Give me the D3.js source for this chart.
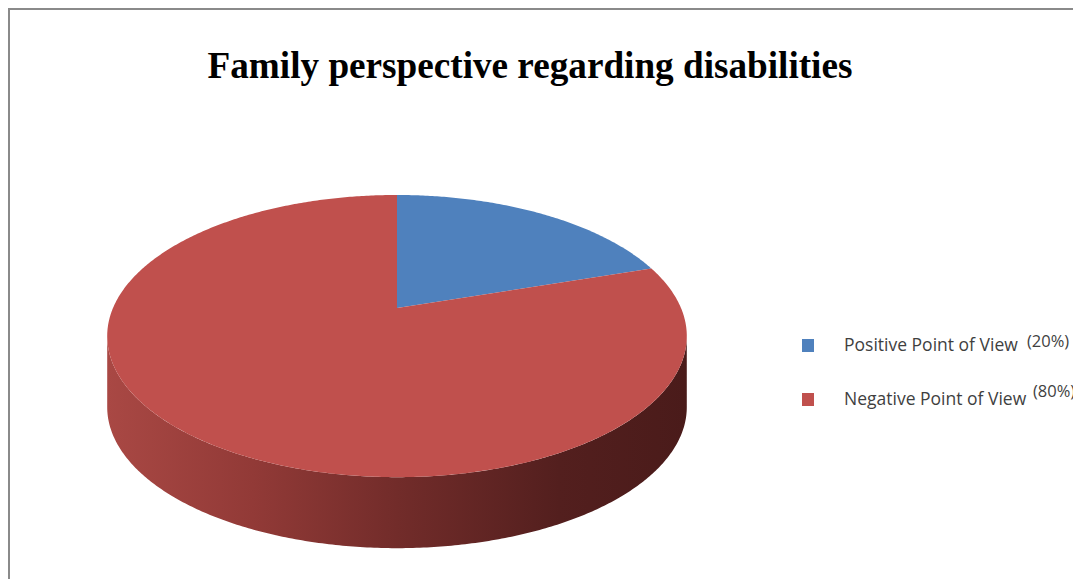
<!DOCTYPE html>
<html>
<head>
<meta charset="utf-8">
<script src="https://cdn.jsdelivr.net/npm/d3@7"></script>
<style>
    body { margin: 0; background: #fff; }
    svg { display: block; }
</style>
</head>
<body>
<svg id="canvas" width="1073" height="579"></svg>
<script>
// chart data
var categories = ["Positive Point of View", "Negative Point of View"];
var values = [20, 80];
var valueLabels = ["(20%)", "(80%)"];
var colors = ["#4f81bd", "#c0504d"];
var title = "Family perspective regarding disabilities";

var svg = d3.select("#canvas");

// frame (right and bottom edges are cut off in the original)
svg.append("path")
    .attr("d", "M9,579 L9,9 L1073,9")
    .attr("fill", "none")
    .attr("stroke", "#8a8a8a")
    .attr("stroke-width", 2);

svg.append("text")
    .attr("x", 530)
    .attr("y", 78)
    .attr("text-anchor", "middle")
    .attr("font-family", "'Liberation Serif', 'Times New Roman', serif")
    .attr("font-weight", "bold")
    .attr("font-size", 37.2)
    .attr("fill", "#000")
    .text(title);

// perspective projection of the pie disc
var pieGeom = {cx: 397, cy: 308, a: 284, b: 135.5, k: 0.199, depth: 71};

function proj(angle, dy) {
    var u = Math.sin(angle), v = Math.cos(angle);
    var den = 1 + pieGeom.k * v;
    return [pieGeom.cx + pieGeom.a * u / den, pieGeom.cy - pieGeom.b * v / den + (dy || 0)];
}

function arcPoints(a0, a1, dy) {
    var n = Math.max(2, Math.ceil(Math.abs(a1 - a0) / 0.01));
    var pts = [];
    for (var i = 0; i <= n; i++) {
        pts.push(proj(a0 + (a1 - a0) * i / n, dy));
    }
    return pts;
}

var pie = d3.pie().sort(null).value(function (d) { return d; });
var arcs = pie(values);

var defs = svg.append("defs");
var grad = defs.append("linearGradient")
    .attr("id", "sideGrad")
    .attr("gradientUnits", "userSpaceOnUse")
    .attr("x1", 107).attr("y1", 0)
    .attr("x2", 687).attr("y2", 0);
[[0, "#a94844"], [0.25, "#923a37"], [0.5, "#722c2a"], [0.78, "#531f1e"], [1, "#4a1b1a"]].forEach(function (s) {
    grad.append("stop").attr("offset", s[0]).attr("stop-color", s[1]);
});

var line = d3.line();

// side wall: visible between the two silhouette points
var silA = Math.acos(-pieGeom.k), silB = 2 * Math.PI - silA;
arcs.forEach(function (d) {
    var s = Math.max(d.startAngle, silA), e = Math.min(d.endAngle, silB);
    if (e <= s) return;
    var top = arcPoints(s, e, 0);
    var bottom = arcPoints(e, s, pieGeom.depth);
    svg.append("path")
        .attr("d", line(top.concat(bottom)) + "Z")
        .attr("fill", d.index === 1 ? "url(#sideGrad)" : d3.color(colors[d.index]).darker(1.2));
});

// top face
svg.append("g").attr("class", "slices")
    .selectAll("path")
    .data(arcs)
    .join("path")
    .attr("d", function (d) {
        var pts = [[pieGeom.cx, pieGeom.cy]].concat(arcPoints(d.startAngle, d.endAngle, 0));
        return line(pts) + "Z";
    })
    .attr("fill", function (d, i) { return colors[i]; });

// legend
var legendRows = [351, 405];
var labelRaise = [4, 8];
var legend = svg.append("g").attr("class", "legend");
categories.forEach(function (c, i) {
    legend.append("rect")
        .attr("x", 802)
        .attr("y", legendRows[i] - 12)
        .attr("width", 12)
        .attr("height", 13)
        .attr("fill", colors[i]);
    legend.append("text")
        .attr("x", 844)
        .attr("y", legendRows[i])
        .attr("font-family", "'Open Sans', sans-serif")
        .attr("font-size", 17.5)
        .attr("fill", "#3f3f3f")
        .text(c);
    legend.append("text")
        .attr("x", i === 0 ? 1027 : 1033)
        .attr("y", legendRows[i] - labelRaise[i])
        .attr("font-family", "'Open Sans', sans-serif")
        .attr("font-size", 16.5)
        .attr("fill", "#3f3f3f")
        .text(valueLabels[i]);
});
</script>
</body>
</html>
